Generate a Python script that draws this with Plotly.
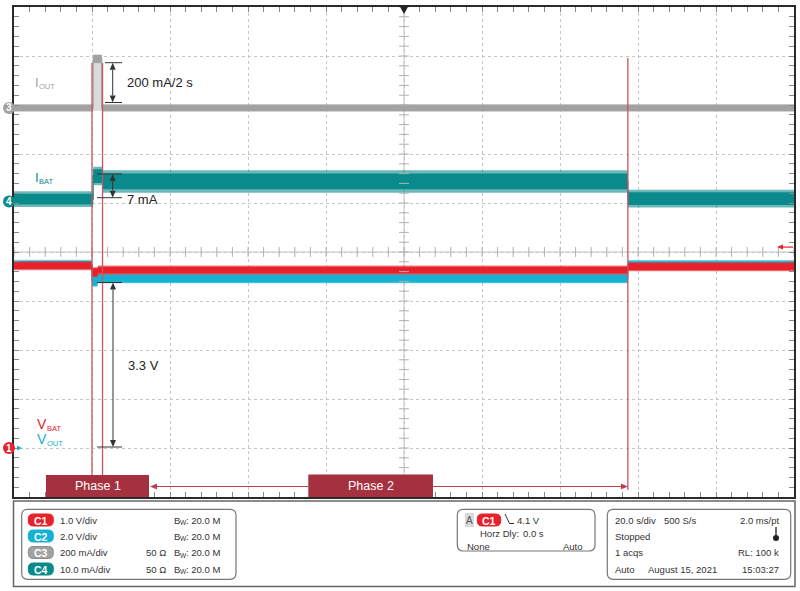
import math
import plotly.graph_objects as go

# ---------------- data ----------------
# horizontal: 20 s/div, 10 divisions, trigger (0 s) at screen centre
time_per_div = 20.0
n_hdiv = 10
n_vdiv = 10

# channel set-up: scale per division and vertical position (div)
ch_scale = {"C1": 1.0, "C2": 2.0, "C3": 200.0, "C4": 10.0}      # V, V, mA, mA per div
ch_position = {"C1": -4.0, "C2": -2.2, "C3": 2.94, "C4": 1.03}
ch_color = {"C1": "#e8212b", "C2": "#17b1d4", "C3": "#a2a2a2", "C4": "#0b8a8c"}

# C3 = IOUT (mA): segment start, end (s), mean level, noise core half-band, noise peak
iout_t0 = [-100.0, -79.7, -77.5]
iout_t1 = [-79.7, -77.5, 100.0]
iout_level = [0.0, 200.0, 0.0]
iout_noise = [12.0, 16.0, 12.0]
iout_peak = [16.0, 18.0, 16.0]

# C4 = IBAT (mA)
ibat_t0 = [-100.0, -79.7, -77.3, 57.4]
ibat_t1 = [-79.7, -77.3, 57.4, 100.0]
ibat_level = [0.5, 5.2, 4.1, 0.6]
ibat_noise = [1.1, 1.4, 1.6, 1.3]
ibat_peak = [1.6, 1.9, 2.3, 1.8]

# C1 = VBAT (V)
vbat_t0 = [-100.0, -80.0, -78.5, 57.4]
vbat_t1 = [-80.0, -78.5, 57.4, 100.0]
vbat_level = [3.72, 3.59, 3.63, 3.70]
vbat_noise = [0.065, 0.08, 0.07, 0.07]
vbat_peak = [0.09, 0.1, 0.095, 0.095]

# C2 = VOUT (V)
vout_t0 = [-100.0, -80.0, -78.6, 57.4]
vout_t1 = [-80.0, -78.6, 57.4, 100.0]
vout_level = [3.89, 3.22, 3.32, 3.87]
vout_noise = [0.14, 0.2, 0.16, 0.15]
vout_peak = [0.19, 0.24, 0.2, 0.2]

# cursors (s) and trigger
cursor_t = [-80.0, -77.3, 57.4]
trigger_level_v = 4.1
trigger_time = 0.0

# readout panel text
ch_rows = [("C1", "1.0 V/div", "", "20.0 M"),
           ("C2", "2.0 V/div", "", "20.0 M"),
           ("C3", "200 mA/div", "50 Ω", "20.0 M"),
           ("C4", "10.0 mA/div", "50 Ω", "20.0 M")]

FONT = "Liberation Sans, Arial, sans-serif"

# ---------------- geometry helpers (page pixels) ----------------
W, H = 800, 591
PX0, PX1, PY0, PY1 = 14, 794, 7, 497


def xp(px):
    return (px - PX0) / (PX1 - PX0)


def yp(py):
    return (PY1 - py) / (PY1 - PY0)


def div_of(ch, v):
    return ch_position[ch] + v / ch_scale[ch]


def yp_div(d):
    return (d + n_vdiv / 2) / n_vdiv


def xp_t(t):
    return (t + time_per_div * n_hdiv / 2) / (time_per_div * n_hdiv)


def band_xy(ch, t0, t1, lev, noi):
    xs, ys = [], []
    for a, b, l, n in zip(t0, t1, lev, noi):
        lo, hi = div_of(ch, l - n), div_of(ch, l + n)
        xs += [a, b, b, a, a, None]
        ys += [lo, lo, hi, hi, lo, None]
    return xs, ys


def step_xy(ch, t0, t1, lev):
    xs, ys = [], []
    for a, b, l in zip(t0, t1, lev):
        xs += [a, b]
        ys += [div_of(ch, l), div_of(ch, l)]
    return xs, ys


def rrect(x0, y0, x1, y1, r):
    return (f"M {xp(x0 + r)},{yp(y0)} L {xp(x1 - r)},{yp(y0)} "
            f"Q {xp(x1)},{yp(y0)} {xp(x1)},{yp(y0 + r)} L {xp(x1)},{yp(y1 - r)} "
            f"Q {xp(x1)},{yp(y1)} {xp(x1 - r)},{yp(y1)} L {xp(x0 + r)},{yp(y1)} "
            f"Q {xp(x0)},{yp(y1)} {xp(x0)},{yp(y1 - r)} L {xp(x0)},{yp(y0 + r)} "
            f"Q {xp(x0)},{yp(y0)} {xp(x0 + r)},{yp(y0)} Z")


shapes = []
ann = []


def arrow(xt, yt, xh, yh, color, width=1.0, L=7.0, hw=3.0, both=False):
    """Line from tail to head with filled triangular head(s), page pixels."""
    dx, dy = xh - xt, yh - yt
    n = math.hypot(dx, dy)
    ux, uy = dx / n, dy / n
    px_, py_ = -uy, ux
    bx0, by0 = (xt + L * ux, yt + L * uy) if both else (xt, yt)
    bx1, by1 = xh - L * ux, yh - L * uy
    shapes.append(dict(type="line", xref="paper", yref="paper", x0=xp(bx0), y0=yp(by0),
                       x1=xp(bx1), y1=yp(by1), line=dict(color=color, width=width)))
    heads = [(xh, yh, bx1, by1)]
    if both:
        heads.append((xt, yt, bx0, by0))
    for hx, hy, bx, by in heads:
        path = (f"M {xp(hx)},{yp(hy)} L {xp(bx + hw * px_)},{yp(by + hw * py_)} "
                f"L {xp(bx - hw * px_)},{yp(by - hw * py_)} Z")
        shapes.append(dict(type="path", xref="paper", yref="paper", path=path,
                           fillcolor=color, line=dict(width=0)))


def label(x, y, s, anchor="left", size=9.5, color="#333", bold=False):
    f = dict(family=FONT, size=size, color=color)
    if bold:
        f["weight"] = 700
    ann.append(dict(xref="paper", yref="paper", x=xp(x), y=yp(y), text=s,
                    showarrow=False, font=f, xanchor=anchor, yanchor="middle"))


fig = go.Figure()

# IOUT pulse body (light fill between baseline and pulse level)
k = iout_level.index(max(iout_level))
base = min(iout_level)
fig.add_trace(go.Scatter(
    x=[iout_t0[k], iout_t1[k], iout_t1[k], iout_t0[k], iout_t0[k]],
    y=[div_of("C3", base - iout_noise[0]), div_of("C3", base - iout_noise[0]),
       div_of("C3", iout_level[k]), div_of("C3", iout_level[k]), div_of("C3", base - iout_noise[0])],
    fill="toself", fillcolor="#dadada", line=dict(width=0), mode="lines", hoverinfo="skip"))

for ch, t0, t1, lev, noi, pk in [("C3", iout_t0, iout_t1, iout_level, iout_noise, iout_peak),
                                 ("C4", ibat_t0, ibat_t1, ibat_level, ibat_noise, ibat_peak),
                                 ("C2", vout_t0, vout_t1, vout_level, vout_noise, vout_peak),
                                 ("C1", vbat_t0, vbat_t1, vbat_level, vbat_noise, vbat_peak)]:
    px_, py_ = band_xy(ch, t0, t1, lev, pk)
    fig.add_trace(go.Scatter(x=px_, y=py_, fill="toself", fillcolor=ch_color[ch], opacity=0.6,
                             line=dict(width=0), mode="lines", hoverinfo="skip"))
    bx, by = band_xy(ch, t0, t1, lev, noi)
    fig.add_trace(go.Scatter(x=bx, y=by, fill="toself", fillcolor=ch_color[ch],
                             line=dict(width=0), mode="lines", hoverinfo="skip"))
    sx, sy = step_xy(ch, t0, t1, lev)
    fig.add_trace(go.Scatter(x=sx, y=sy, mode="lines", line=dict(color=ch_color[ch], width=1.2),
                             hoverinfo="skip"))

# centre graticule ticks
ys_t = [-5 + 0.2 * i for i in range(51)]
xs_t = [-100 + 4 * i for i in range(51)]
fig.add_trace(go.Scatter(x=[0] * len(ys_t), y=ys_t, mode="markers",
                         marker=dict(symbol="line-ew", size=7, line=dict(color="#b0b0b0", width=1)),
                         hoverinfo="skip"))
fig.add_trace(go.Scatter(x=xs_t, y=[0] * len(xs_t), mode="markers",
                         marker=dict(symbol="line-ns", size=7, line=dict(color="#b0b0b0", width=1)),
                         hoverinfo="skip"))

# centre lines
shapes.append(dict(type="line", xref="x", yref="y", x0=0, x1=0, y0=-5, y1=5,
                   line=dict(color="#c4c4c4", width=1), layer="below"))
shapes.append(dict(type="line", xref="x", yref="y", x0=-100, x1=100, y0=0, y1=0,
                   line=dict(color="#c4c4c4", width=1), layer="below"))

# cursors
cur_top = [63, 63, 58]
cur_bot = [475, 475, 490]
for t, a, b in zip(cursor_t, cur_top, cur_bot):
    shapes.append(dict(type="line", xref="paper", yref="paper", x0=xp_t(t), x1=xp_t(t),
                       y0=yp(b), y1=yp(a), line=dict(color="#c95562", width=1.3)))

# trigger time marker (top) and trigger level arrow (right)
tx = xp_t(trigger_time)
shapes.append(dict(type="path", xref="paper", yref="paper",
                   path=f"M {tx - 5/780},{yp(5)} L {tx + 5/780},{yp(5)} L {tx},{yp(14)} Z",
                   fillcolor="#222", line=dict(width=0)))
ty_px = PY1 - yp_div(div_of("C1", trigger_level_v)) * (PY1 - PY0)
arrow(793, ty_px, 777, ty_px, "#e8212b", width=1.2, L=6, hw=2.5)

# channel markers
for ch, num in [("C3", "3"), ("C4", "4"), ("C1", "1")]:
    cy = yp_div(ch_position[ch])
    shapes.append(dict(type="circle", xref="paper", yref="paper",
                       x0=xp(3), x1=xp(15), y0=cy - 6 / 490, y1=cy + 6 / 490,
                       fillcolor=ch_color[ch], line=dict(width=0)))
    cy_px = PY1 - cy * (PY1 - PY0)
    label(9, cy_px, num, anchor="center", size=10, color="white", bold=True)
cy1 = yp_div(ch_position["C1"])
shapes.append(dict(type="path", xref="paper", yref="paper",
                   path=f"M {xp(17)},{cy1 + 2.5/490} L {xp(22)},{cy1} L {xp(17)},{cy1 - 2.5/490} Z",
                   fillcolor=ch_color["C2"], line=dict(width=0)))

# channel labels (main letter + subscript)
for main, sub, mx, my, msize, sx_, sy_, col in [
        ("I", "OUT", 32.5, 82.5, 13, 37, 86.5, ch_color["C3"]),
        ("I", "BAT", 32.5, 177.5, 13, 37, 181.5, ch_color["C4"]),
        ("V", "BAT", 34.5, 423.5, 14, 44.5, 428, ch_color["C1"]),
        ("V", "OUT", 34.5, 438.5, 14, 44.5, 443, ch_color["C2"])]:
    label(mx, my, main, size=msize, color=col)
    label(sx_, sy_, sub, size=7.5, color=col)

# dimension arrows
for xa, ytop, ybot, cx0, label_txt, lx, ly in [(112.7, 62.7, 102.5, 105, "200 mA/2 s", 125, 83),
                                              (112.7, 174, 197.7, 97, "7 mA", 125, 199),
                                              (113, 282.5, 447, 97, "3.3 V", 126, 365)]:
    arrow(xa, ybot, xa, ytop, "#333", width=1, L=7, hw=3, both=True)
    for yy in (ytop, ybot):
        shapes.append(dict(type="line", xref="paper", yref="paper", x0=xp(cx0), x1=xp(122),
                           y0=yp(yy), y1=yp(yy), line=dict(color="#333", width=1)))
    label(lx, ly, label_txt, size=13, color="#222")

# phase boxes and arrows
PHASE = "#a5303f"
for x0, x1, y0, lab in [(46, 149, 475, "Phase 1"), (308.3, 433, 474.5, "Phase 2")]:
    shapes.append(dict(type="rect", xref="paper", yref="paper", x0=xp(x0), x1=xp(x1),
                       y0=yp(497), y1=yp(y0), fillcolor=PHASE, line=dict(width=0)))
    label((x0 + x1) / 2, 486, lab, anchor="center", size=12.5, color="white")
arrow(308.3, 486.5, 150, 486.5, "#b8404f", width=1, L=7, hw=3)
arrow(433, 486.5, xp_t(cursor_t[2]) * 780 + PX0, 486.5, "#b8404f", width=1, L=7, hw=3)

# ---------------- readout panel ----------------
shapes.append(dict(type="rect", xref="paper", yref="paper", x0=xp(13.5), x1=xp(795),
                   y0=yp(586.5), y1=yp(501), line=dict(color="#666", width=1.5)))
for box in [(21.7, 509.3, 236, 579.3), (457.3, 509.3, 595, 551), (607.3, 509.3, 790.7, 579.3)]:
    shapes.append(dict(type="path", xref="paper", yref="paper", path=rrect(*box, 6),
                       line=dict(color="#777", width=1.2)))


def badge(x0, x1, yc, ch):
    edge = "#8a8a8a" if ch == "C3" else ch_color[ch]
    shapes.append(dict(type="path", xref="paper", yref="paper", path=rrect(x0, yc - 6, x1, yc + 6, 5),
                       fillcolor=ch_color[ch], line=dict(color=edge, width=1)))
    label((x0 + x1) / 2, yc + 0.5, ch, anchor="center", size=10.5, color="white", bold=True)


row_y = [520, 536, 552.5, 569]
for (ch, scale_txt, imp, bw), yy in zip(ch_rows, row_y):
    badge(28.3, 53.3, yy, ch)
    label(58, yy, scale_txt)
    if imp:
        label(144, yy, imp)
    label(172, yy, "B")
    label(178.3, yy + 2.5, "W", size=6.5)
    label(184, yy, f": {bw}")

# trigger box
shapes.append(dict(type="rect", xref="paper", yref="paper", x0=xp(465), x1=xp(474),
                   y0=yp(527), y1=yp(513), fillcolor="#d9d9d9", line=dict(width=0)))
label(469.5, 520, "A", anchor="center", size=10, color="#555")
badge(477.3, 500.7, 520, "C1")
shapes.append(dict(type="path", xref="paper", yref="paper",
                   path=f"M {xp(505)},{yp(514)} L {xp(509.5)},{yp(523.5)} L {xp(514)},{yp(523.5)}",
                   line=dict(color="#333", width=1)))
label(515, 520, f"{trigger_level_v} V")
label(478, 533.5, "Horz Dly:")
label(521, 533.5, f"{trigger_time:.1f} s")
label(465, 546, "None")
label(585, 546, "Auto", anchor="right")

# acquisition box
label(613.3, 520, f"{time_per_div:.1f} s/div")
label(661.7, 520, "500 S/s")
label(781, 520, "2.0 ms/pt", anchor="right")
label(613.3, 536, "Stopped")
shapes.append(dict(type="line", xref="paper", yref="paper", x0=xp(776), x1=xp(776),
                   y0=yp(527), y1=yp(537), line=dict(color="#222", width=1.3)))
shapes.append(dict(type="circle", xref="paper", yref="paper", x0=xp(773), x1=xp(779),
                   y0=yp(541), y1=yp(535), fillcolor="#222", line=dict(width=0)))
label(613.3, 552.5, "1 acqs")
label(781, 552.5, "RL: 100 k", anchor="right")
label(613.3, 569, "Auto")
label(645.7, 569, "August 15, 2021")
label(781, 569, "15:03:27", anchor="right")

axis_common = dict(showticklabels=False, zeroline=False, showgrid=True, gridcolor="#c6c6c6",
                   griddash="dot", gridwidth=1, showline=True, linecolor="#2a2a2a", linewidth=1.5,
                   mirror="allticks", ticks="inside", ticklen=5, tickcolor="#8a8a8a", tickwidth=1)
fig.update_layout(
    width=W, height=H, autosize=False, showlegend=False,
    paper_bgcolor="white", plot_bgcolor="white",
    margin=dict(l=PX0, r=W - PX1, t=PY0, b=H - PY1, autoexpand=False),
    xaxis=dict(range=[-100, 100], dtick=time_per_div, tick0=0,
               minor=dict(dtick=time_per_div / 5, ticks="inside", ticklen=5, tickcolor="#8a8a8a",
                          showgrid=False),
               **axis_common),
    yaxis=dict(range=[-5, 5], dtick=1, tick0=0,
               minor=dict(dtick=0.2, ticks="inside", ticklen=5, tickcolor="#8a8a8a", showgrid=False),
               **axis_common),
    shapes=shapes, annotations=ann,
    font=dict(family=FONT),
)

# remove the browser's default 8 px body margin so the figure sits at the page origin
fig.write_html("out.html", config={"displayModeBar": False},
               post_script="document.body.style.margin='0';document.body.style.overflow='hidden';")
